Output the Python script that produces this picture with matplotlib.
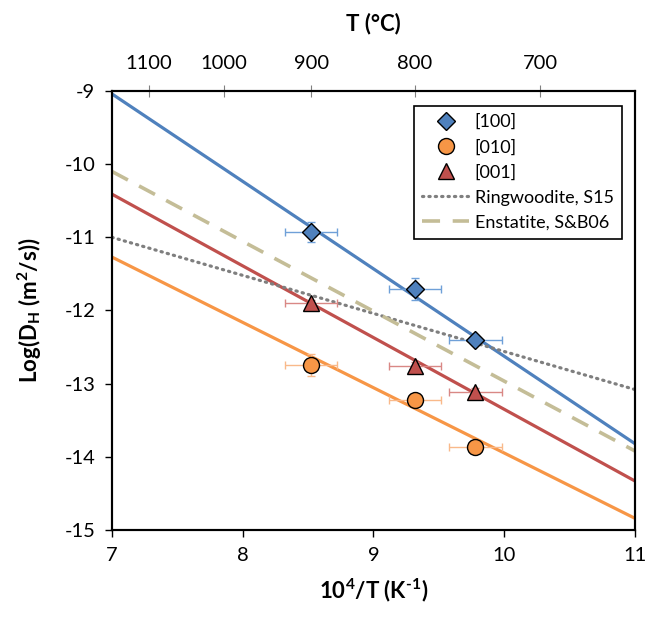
import matplotlib
matplotlib.use("Agg")
import matplotlib.pyplot as plt
import numpy as np

plt.rcParams['font.family'] = ['Lato', 'DejaVu Sans']
plt.rcParams['mathtext.fontset'] = 'custom'
plt.rcParams['mathtext.rm'] = 'Lato'
plt.rcParams['mathtext.bf'] = 'Lato:bold'
plt.rcParams['axes.unicode_minus'] = False

# Data
x_pts = [8.52, 9.32, 9.78]
y100 = [-10.93, -11.70, -12.41]
y010 = [-12.75, -13.23, -13.86]
y001 = [-11.90, -12.76, -13.11]
xerr = [0.2, 0.2, 0.2]
yerr100 = [0.14, 0.15, 0.06]
yerr010 = [0.15, 0.05, 0.05]
yerr001 = [0.05, 0.05, 0.05]

line_x = [7, 11]
fit100 = [-9.04, -13.82]
fit010 = [-11.27, -14.84]
fit001 = [-10.41, -14.33]
ringwoodite = [-11.0, -13.08]
enstatite = [-10.10, -13.92]

top_T = [1100, 1000, 900, 800, 700]

c_blue = '#4F81BD'
c_orange = '#F79646'
c_red = '#C0504D'
c_tan = '#C4BD97'
c_grey = '#7F7F7F'

fig = plt.figure(figsize=(6.48, 6.25), dpi=100)
ax = fig.add_axes([0.1728, 0.152, 0.807, 0.7024])

ax.plot(line_x, fit100, color=c_blue, lw=2.3, zorder=2)
ax.plot(line_x, fit001, color=c_red, lw=2.3, zorder=2)
ax.plot(line_x, fit010, color=c_orange, lw=2.3, zorder=2)
rw, = ax.plot(line_x, ringwoodite, color=c_grey, lw=2.3, ls=(0, (0.4, 1.6)),
              dash_capstyle='round', zorder=2, label='Ringwoodite, S15')
en, = ax.plot(line_x, enstatite, color=c_tan, lw=2.6, ls=(0, (5, 3.5)),
              zorder=2, label='Enstatite, S&B06')

ax.errorbar(x_pts, y100, xerr=xerr, yerr=yerr100, fmt='none', ecolor='#6FA0D8',
            elinewidth=1, capsize=3, capthick=1, zorder=3)
ax.errorbar(x_pts, y010, xerr=xerr, yerr=yerr010, fmt='none', ecolor='#F9B98A',
            elinewidth=1, capsize=3, capthick=1, zorder=3)
ax.errorbar(x_pts, y001, xerr=xerr, yerr=yerr001, fmt='none', ecolor='#D98885',
            elinewidth=1, capsize=3, capthick=1, zorder=3)

h100, = ax.plot(x_pts, y100, ls='none', marker='D', ms=9.5, mfc=c_blue, mec='black',
                mew=1, zorder=4, label='[100]')
h010, = ax.plot(x_pts, y010, ls='none', marker='o', ms=11.5, mfc=c_orange, mec='black',
                mew=1, zorder=4, label='[010]')
h001, = ax.plot(x_pts, y001, ls='none', marker='^', ms=11.5, mfc=c_red, mec='black',
                mew=1, zorder=4, label='[001]')

ax.set_xlim(7, 11)
ax.set_ylim(-15, -9)
ax.set_xticks([7, 8, 9, 10, 11])
ax.set_yticks([-15, -14, -13, -12, -11, -10, -9])
ax.tick_params(axis='both', direction='out', length=5, width=1, labelsize=14.5, pad=7)
for s in ax.spines.values():
    s.set_linewidth(1.5)

ax.set_xlabel('10$^\\mathbf{4}$/T (K$^\\mathbf{\u2010}$$^\\mathbf{1}$)', fontsize=16,
              fontweight='bold', labelpad=9)
ax.set_ylabel(r'Log(D$_\mathbf{H}$ (m$^\mathbf{2}$/s))', fontsize=16, fontweight='bold',
              labelpad=15)

top = ax.twiny()
top.set_xlim(ax.get_xlim())
top.set_xticks([1e4 / (t + 273.15) for t in top_T])
top.set_xticklabels([str(t) for t in top_T])
top.tick_params(axis='x', direction='inout', length=9, width=0.8, color='#808080',
                labelsize=14.5, pad=9)
top.set_xlabel('T (°C)', fontsize=16, fontweight='bold', labelpad=18)
for s in top.spines.values():
    s.set_linewidth(1.5)

leg = ax.legend(handles=[h100, h010, h001, rw, en], loc='upper right',
                bbox_to_anchor=(0.975, 0.966), borderaxespad=0, fontsize=13,
                frameon=True, fancybox=False, edgecolor='black', framealpha=1,
                handlelength=2.6, handletextpad=0.3, labelspacing=0.5,
                borderpad=0.45)
leg.get_frame().set_linewidth(1.2)

fig.savefig('out.png', dpi=100)
